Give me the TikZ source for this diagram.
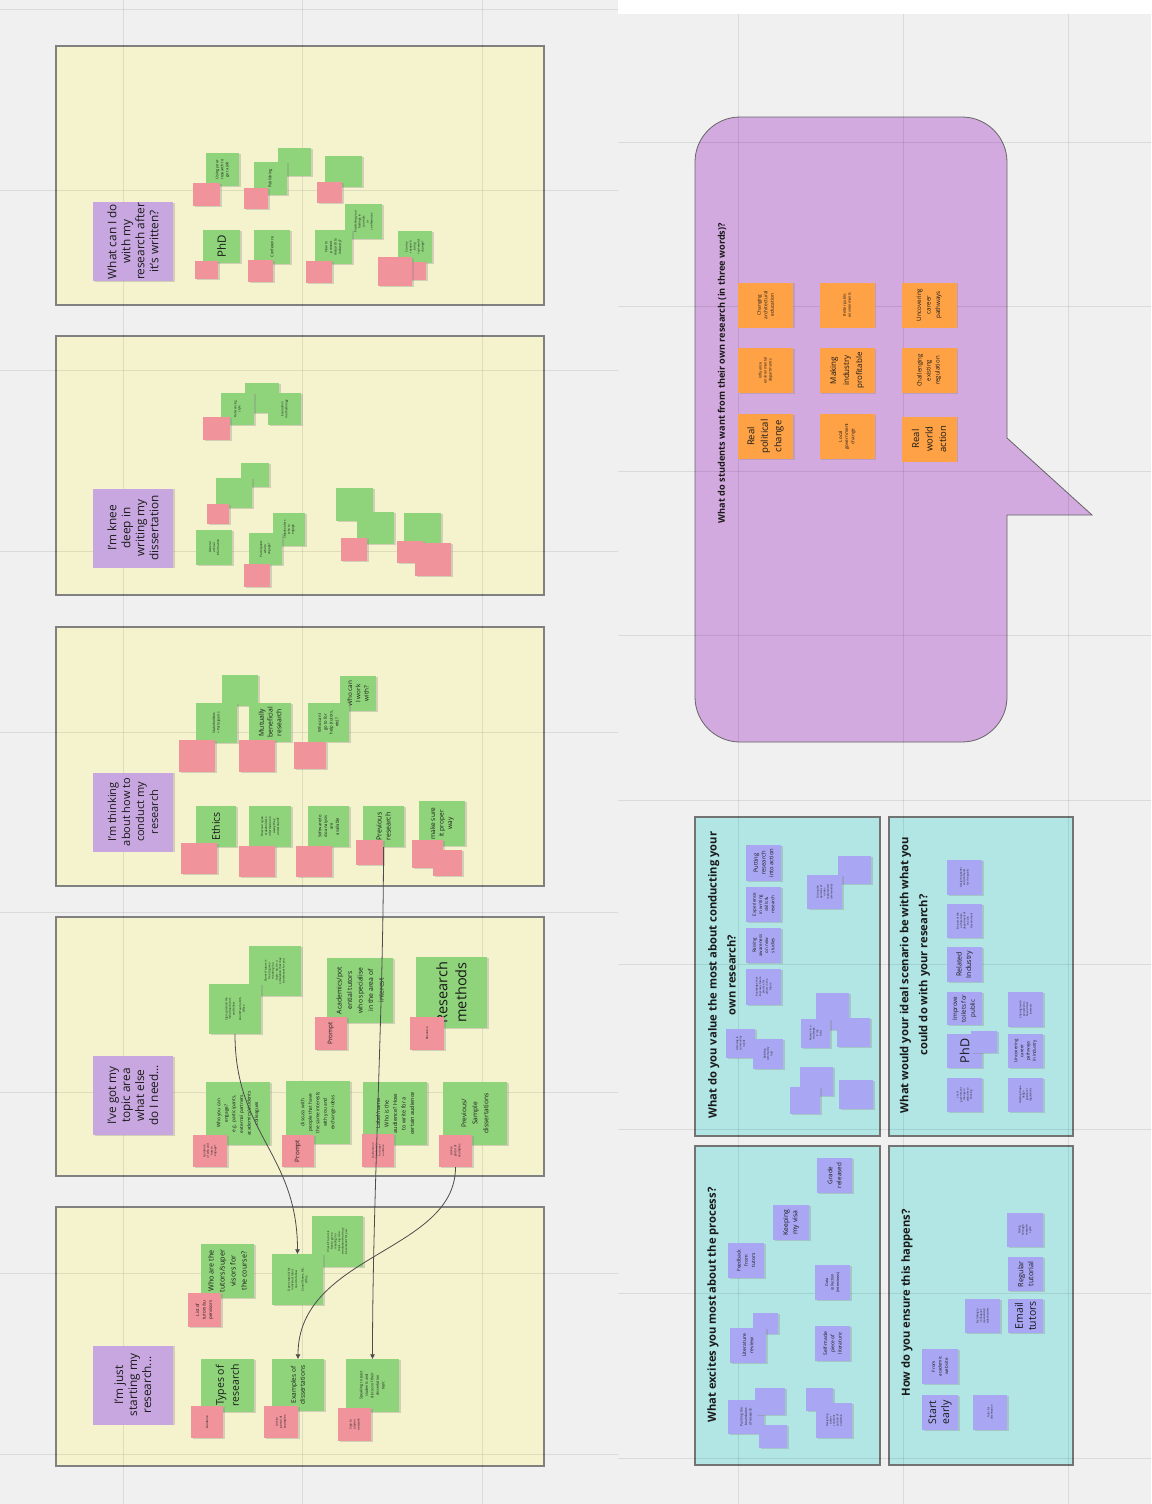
\documentclass[tikz,border=0pt]{standalone}
\usepackage{fontspec}
\setmainfont{Open Sans}
\usetikzlibrary{shadows,arrows.meta}
\definecolor{bggrey}{HTML}{F0F0F0}
\definecolor{panelyellow}{HTML}{F5F2CE}
\definecolor{panelcyan}{HTML}{B1E6E5}
\definecolor{notegreen}{HTML}{8FD47B}
\definecolor{notepink}{HTML}{F0939B}
\definecolor{notelav}{HTML}{C8A7E0}
\definecolor{noteviolet}{HTML}{A9A7F4}
\definecolor{noteorange}{HTML}{FFA245}
\definecolor{bubblepurple}{HTML}{D3AADF}

\begin{document}
\begin{tikzpicture}[x=1pt,y=-1pt,
  fs/.style 2 args={font=\fontsize{#1}{#2}\selectfont},
  fsb/.style 2 args={font=\bfseries\fontsize{#1}{#2}\selectfont},
  sz/.style 2 args={minimum height=#1pt,minimum width=#2pt},
  wee/.style={fs={3.8}{5}},
  sticky/.style={rotate=90,inner sep=1pt,align=center,text=black!90,
    drop shadow={shadow xshift=1.8pt,shadow yshift=-0.6pt,opacity=.3}},
  gnote/.style={sticky,fill=notegreen},
  pnote/.style={sticky,fill=notepink},
  vnote/.style={sticky,fill=noteviolet},
  onote/.style={sticky,fill=noteorange,sz={55}{45}},
  hnote/.style={sticky,fill=notelav,sz={80}{79},fs={11.8}{14}},
  panel/.style={fill=panelyellow,draw=black!50,line width=1.2pt},
  cpanel/.style={fill=panelcyan,draw=black!55,line width=1.2pt},
  bubbleshape/.style={fill=bubblepurple,draw=black!60,line width=0.8pt},
  gridline/.style={black,opacity=.09,line width=0.8pt},
  qtitle/.style={rotate=90,align=center,inner sep=0pt,text=black!90},
  conn/.style={draw=black!70,line width=0.8pt,-{Triangle[length=4.5pt,width=4.5pt]}}]
\useasboundingbox (0,0) rectangle (1151,1504);

% board
\fill[bggrey] (0,0) rectangle (1151,1504);
\fill[white] (618,0) rectangle (1151,14);
\foreach \py in {46,336,627,917,1207}
  \draw[panel] (56,\py) rectangle (544,\py+259);
\draw[bubbleshape] (850,117) [rounded corners=45pt] -- (1007,117) -- (1007,300) [sharp corners] -- (1007,438) -- (1092,515) -- (1007,515) -- (1007,650) [rounded corners=45pt] -- (1007,742) -- (695,742) -- (695,117) -- cycle;
\draw[cpanel] (695,817) rectangle (880,1136);
\draw[cpanel] (889,817) rectangle (1073,1136);
\draw[cpanel] (695,1146) rectangle (880,1465);
\draw[cpanel] (889,1146) rectangle (1073,1465);
\foreach \gx in {123,302,482}
  \draw[gridline] (\gx,0) -- (\gx,1504);
\foreach \gy in {9,190,370,551,732,912,1092,1273,1454}
  \draw[gridline] (0,\gy) -- (618,\gy);
\foreach \gx in {738,903,1068}
  \draw[gridline] (\gx,14) -- (\gx,1504);
\foreach \gy in {142,306,471,635,800,964,1129,1293,1458}
  \draw[gridline] (618,\gy) -- (1151,\gy);

% panel 1
\node[hnote] (h1) at (133,241.5) {What can I do\\with my\\research after\\it's written?};
\foreach \cx/\cy/\w/\h [count=\k] in {294.5/162/33/28,343.5/171.5/37/31}
  \node[gnote,sz={\w}{\h}] (n1e\k) at (\cx,\cy) {};
\node[gnote,sz={33}{33},wee] (n1job) at (222.5,169.5) {Using your\\research to\\get a job};
\node[gnote,sz={33}{33},wee] (n1pub) at (270.5,178.5) {Publishing};
\node[gnote,sz={37}{33},fs={11.5}{13}] (n1phd) at (221.5,246.5) {PhD};
\node[gnote,sz={36}{34},wee] (n1conf) at (272,247) {Conference};
\node[gnote,sz={37}{35},fs={3}{4}] (n1find) at (363.5,221.5) {Publishing your\\findings in\\journals\\or\\conferences};
\node[gnote,sz={37}{34},fs={3.4}{4.6}] (n1ind) at (333.5,247) {How to\\present\\research to\\industry?};
\node[gnote,sz={34}{32},fs={3}{4}] (n1chg) at (415,247) {Can my\\research\\bring\\real-world\\change?};
\foreach \cx/\cy/\w/\h [count=\k] in {206.5/194.5/27/23,256/198.5/24/21,329.5/192.5/25/21,206.5/270/23/18,260.5/271/25/22,319/272/26/22,414.5/271/23/18,395/271.5/34/29}
  \node[pnote,sz={\w}{\h}] (n1p\k) at (\cx,\cy) {};

% panel 2
\node[hnote] (h2) at (133,528) {I'm knee\\deep in\\writing my\\dissertation};
\foreach \cx/\cy/\w/\h [count=\k] in {262/398/34/30,255/475/28/24,234/493/36/30,354.5/504.5/37/33,375.5/528/37/32,422.5/528.5/37/31}
  \node[gnote,sz={\w}{\h}] (n2e\k) at (\cx,\cy) {};
\node[gnote,sz={33}{32},fs={3}{4}] (n2ref) at (237.5,409) {Referencing\\style};
\node[gnote,sz={33}{32},fs={3}{4}] (n2eval) at (284.5,409) {Evaluation\\methodology};
\node[gnote,sz={36}{35},fs={3}{4}] (n2eth) at (214,547.5) {General\\ethical\\information};
\node[gnote,sz={32}{33},fs={3}{4}] (n2stake) at (289,529.5) {Stakeholders\\who to\\engage};
\node[gnote,sz={33}{32},fs={3}{4}] (n2part) at (265.5,549) {Participants\\who to\\engage?};
\foreach \cx/\cy/\w/\h [count=\k] in {216.5/428.5/27/23,218/514/22/20,257/575.5/26/23,354/549.5/26/23,410/552/26/22,433/559.5/36/33}
  \node[pnote,sz={\w}{\h}] (n2p\k) at (\cx,\cy) {};

% panel 3
\node[hnote,fs={11}{14}] (h3) at (133,812) {I'm thinking\\about how to\\conduct my\\research};
\node[gnote,sz={36}{31}] (n3e1) at (240,690.5) {};
\node[gnote,sz={41}{40},fs={3.4}{4.6}] (n3stake) at (216.5,723) {Stakeholders\\+ Participants};
\node[gnote,sz={42}{39},fs={6.8}{8.8}] (n3mutual) at (270,722.5) {Mutually\\beneficial\\research};
\node[gnote,sz={36}{35},fs={6.3}{8.3}] (n3work) at (358,693.5) {Who can\\I work\\with?};
\node[gnote,sz={41}{39},fs={4.2}{5.8}] (n3help) at (328.5,722.5) {Who can I\\go to for\\help (tutors,\\etc)?};
\node[gnote,sz={40}{41},fs={10.5}{12}] (n3ethics) at (216,826.5) {Ethics};
\node[gnote,sz={42}{41},fs={3}{4}] (n3info) at (270,826.5) {How can I give\\stakeholders\\information in\\a way they\\understand?};
\node[gnote,sz={41}{41},fs={4.2}{5.8}] (n3soft) at (328.5,826.5) {Software/to\\do analysis\\are\\available};
\node[gnote,sz={41}{41},fs={7}{9}] (n3prev) at (383.5,826.5) {Previous\\research};
\node[gnote,sz={46}{45},fs={6.5}{8.5}] (n3proper) at (442,823.5) {make sure\\it proper\\way};
\foreach \cx/\cy/\w/\h [count=\k] in {197/756/36/32,257/756/36/32,310/755.5/32/27,199/858.5/36/31,257/861.5/36/31,314/861.5/36/31,369.5/852.5/27/25,427.5/854/31/28,447.5/863/29/26}
  \node[pnote,sz={\w}{\h}] (n3p\k) at (\cx,\cy) {};

% panel 4
\node[hnote] (h4) at (133,1095.5) {I've got my\\topic area\\what else\\do I need...};
\node[gnote,sz={52}{50},fs={2.8}{3.6}] (n4check) at (275,971) {Check if tutors is\\free to give a\\meeting in a\\topic - eg. do a\\simulation that may\\be relevant for you.};
\node[gnote,sz={52}{50},fs={2.8}{3.6}] (n4sign) at (235,1009) {Sign up/email the\\individual tutors\\and follow\\[3pt]Zoom/Teams, MS,\\Office};
\node[gnote,sz={66}{65},fs={6.8}{10.5}] (n4acad) at (360,990.5) {Academics/pot\\ential tutors\\who specialise\\in the area of\\interest};
\node[pnote,sz={32}{33},fs={6.3}{8}] (n4prompt1) at (331,1033.5) {Prompt};
\node[gnote,sz={71}{71},fs={14.5}{19}] (n4meth) at (451.5,992.5) {Research\\methods};
\node[pnote,sz={34}{33},fs={3}{4}] (n4res) at (427,1033.5) {Resource};
\node[gnote,sz={64}{63},fs={4.8}{7.5}] (n4engage) at (238,1113.5) {Who you can\\engage?\\e.g. participants,\\external partners,\\academics/students\\colleagues};
\node[pnote,sz={34}{32},fs={2.8}{3.6}] (n4guide) at (210,1151) {Guidance\\of who and\\how to\\engage?};
\node[gnote,sz={64}{63},fs={4.8}{7.5}] (n4disc) at (318,1112.5) {discuss with\\people that have\\the same interests\\with you and\\exchange ideas};
\node[pnote,sz={32}{32},fs={6.3}{8}] (n4prompt2) at (298,1151) {Prompt};
\node[gnote,sz={64}{63},fs={5.5}{8.5}] (n4aud) at (395,1113.5) {Label/name\\Who is the\\audience? How\\to write for a\\certain audience};
\node[pnote,sz={32}{33},fs={2.6}{3.4}] (n4write) at (378,1150.5) {Guidance on\\how to write\\for target\\audience};
\node[gnote,sz={64}{63},fs={6.6}{11}] (n4prev) at (475,1113.5) {Previous/\\Sample\\dissertations};
\node[pnote,sz={33}{32},fs={3}{4}] (n4link) at (455.5,1151) {Link to\\portal of\\examples};

% panel 5
\node[hnote] (h5) at (133,1385) {I'm just\\starting my\\research...};
\node[gnote,sz={53}{54},fs={7.2}{11}] (n5tutors) at (227.5,1271) {Who are the\\tutors/super\\visors for\\the course?};
\node[pnote,sz={33}{34},fs={4.5}{6.5}] (n5list) at (204.5,1310) {List of\\tutors/su\\pervisors};
\node[gnote,sz={51}{51},fs={2.8}{3.6}] (n5check) at (337.5,1241.5) {Check if tutors is\\free to give a\\meeting in a\\topic - eg. do a\\simulation that may\\be relevant for you.};
\node[gnote,sz={51}{51},fs={2.8}{3.6}] (n5open) at (297.5,1279.5) {Opens tutorial for\\individual tutors\\need to follow\\[3pt]Zoom/Teams, MS,\\Office};
\node[gnote,sz={53}{53},fs={10.5}{15}] (n5types) at (227.5,1385.5) {Types of\\research};
\node[pnote,sz={32}{32},fs={3}{4}] (n5guide) at (207,1422) {Guidance};
\node[gnote,sz={52}{52},fs={6.5}{9}] (n5exam) at (298,1385) {Examples of\\dissertations};
\node[pnote,sz={34}{32},fs={3}{4}] (n5link) at (281,1422) {Link to\\portal of\\examples};
\node[gnote,sz={53}{53},fs={3.6}{5.5}] (n5speak) at (372.5,1385.5) {Speaking to past\\students and\\discuss of their\\dissertation\\topic};
\node[pnote,sz={33}{33},fs={3}{4}] (n5alumni) at (354.5,1424.5) {Sign to\\alumni\\network};

% speech bubble
\node[qtitle,fsb={9.2}{11}] (tbub) at (722,373) {What do students want from their own research (in three words)?};
\node[onote,fs={4.8}{6.5}] (o1) at (765.5,305) {Changing\\architectural\\education};
\node[onote,fs={3.8}{5}] (o2) at (765.5,370.5) {Influence\\environmental\\departments};
\node[onote,fs={9.5}{13.5}] (o3) at (765.5,436.5) {Real\\political\\change};
\node[onote,fs={3.8}{5}] (o4) at (847,305) {Better public\\environments};
\node[onote,fs={8}{13}] (o5) at (847,370.5) {Making\\industry\\profitable};
\node[onote,fs={4.6}{6.2}] (o6) at (847,436.5) {Local\\government\\change};
\node[onote,fs={6.2}{9.5}] (o7) at (929,305) {Uncovering\\career\\pathways};
\node[onote,fs={6}{9}] (o8) at (929,370.5) {Challenging\\existing\\regulation};
\node[onote,fs={9.5}{13.5}] (o9) at (929,439) {Real\\world\\action};

% what do you value
\node[qtitle,fsb={11.2}{19}] (ta) at (722,975) {What do you value the most about conducting your\\own research?};
\foreach \cx/\cy/\w/\h [count=\k] in {854.5/870/33/28,832.5/1011.5/33/37,853.5/1032.5/33/29,816.5/1081.5/33/29,805/1100.5/30/27,856/1094.5/34/29}
  \node[vnote,sz={\w}{\h}] (ae\k) at (\cx,\cy) {};
\node[vnote,sz={35}{36},fs={5.8}{7.8}] (aput) at (763.5,863) {Putting\\research\\into action};
\node[vnote,sz={35}{35},fs={4.5}{6.2}] (aexp) at (763.5,904.5) {Experience\\in writing\\skills \&\\research};
\node[vnote,sz={35}{35},fs={4.5}{6.2}] (araise) at (763.5,945.5) {Raising\\awareness\\on new\\studies};
\node[vnote,sz={35}{36},fs={2.6}{3.4}] (aknow) at (763.5,987) {Knowledge that\\improves future\\practice for\\others in the\\future};
\node[vnote,sz={35}{34},fs={2.6}{3.4}] (agive) at (824.5,892) {Giving the\\opinions of\\under-\\represented\\communities};
\node[vnote,sz={29}{29},fs={2.6}{3.4}] (achal) at (815.5,1033.5) {Answer to a\\challenge\\in my\\field};
\node[vnote,sz={29}{29},fs={2.6}{3.4}] (alisten) at (740.5,1043.5) {Listening to\\community\\needs};
\node[vnote,sz={30}{30},fs={2.6}{3.4}] (abuild) at (768,1054) {Building\\community\\trust};

% ideal scenario
\node[qtitle,fsb={11.2}{19}] (tb) at (915,975) {What would your ideal scenario be with what you\\could do with your research?};
\node[vnote,sz={35}{35},fs={2.6}{3.4}] (bdes) at (964.5,877.5) {Designing better\\environments\\for the public};
\node[vnote,sz={35}{34},fs={2.6}{3.4}] (bgov) at (964.5,921) {Be part of the\\architecture\\department of\\the UK\\Government};
\node[vnote,sz={35}{35},fs={7}{9.5}] (bind) at (964.5,964.5) {Related\\Industry};
\node[vnote,sz={35}{33},fs={6.2}{8.8}] (btoil) at (964.5,1008.5) {Improve\\toilets for\\public};
\node[vnote,sz={35}{34},fs={12.5}{14}] (bphd) at (964.5,1051) {PhD};
\node[vnote,sz={26}{22}] (be1) at (984,1042) {};
\node[vnote,sz={35}{34},fs={2.6}{3.4}] (blocal) at (964.5,1095) {Local\\government\\change in\\attitudes to\\housing};
\node[vnote,sz={35}{35},fs={2.6}{3.4}] (bshare) at (1025.5,1009.5) {Sharing it with\\people who\\have similar\\interests};
\node[vnote,sz={35}{34},fs={4.4}{6.2}] (bcareer) at (1025.5,1051) {Uncovering\\career\\pathways\\in industry};
\node[vnote,sz={35}{34},fs={2.6}{3.4}] (bshape) at (1025.5,1095) {Helping shape\\design\\guidance/\\regulations};

% excites
\node[qtitle,fsb={11.2}{19}] (tc) at (713,1305) {What excites you most about the process?};
\node[vnote,sz={35}{35},fs={6.3}{8.8}] (cgrade) at (834.5,1175.5) {Grade\\released};
\node[vnote,sz={36}{35},fs={6.8}{9.3}] (cvisa) at (791,1222.5) {Keeping\\my visa};
\node[vnote,sz={36}{35},fs={5}{7.2}] (cfeed) at (746,1260.5) {Feedback\\from\\tutors};
\node[vnote,sz={35}{35},fs={3.8}{5.5}] (cdata) at (832.5,1282.5) {Data\\collection\\(interviews)};
\node[vnote,sz={25}{21}] (ce1) at (765.5,1323.5) {};
\node[vnote,sz={36}{35},fs={5}{7.2}] (clit) at (748,1345.5) {Literature\\review};
\node[vnote,sz={35}{35},fs={5}{7.2}] (cself) at (832.5,1343.5) {Self-made\\piece of\\literature};
\node[vnote,sz={36}{34},fs={3.3}{4.5}] (cpush) at (746,1417) {Pushing the\\boundaries\\of research};
\foreach \cx/\cy/\w/\h [count=\k] in {770/1401.5/30/27,773/1436.5/28/23,819.5/1399.5/27/23}
  \node[vnote,sz={\w}{\h}] (ce\k x) at (\cx,\cy) {};
\node[vnote,sz={36}{35},fs={2.6}{3.4}] (cdes) at (834,1420.5) {Designing\\better\\solutions\\outside of\\academia};

% ensure
\node[qtitle,fsb={11.2}{19}] (td) at (907,1303) {How do you ensure this happens?};
\node[vnote,sz={36}{34},fs={2.8}{3.6}] (dcycle) at (1025,1230) {Going\\through\\research\\cycle};
\node[vnote,sz={35}{34},fs={7.3}{10}] (dtut) at (1025.5,1274) {Regular\\tutorial};
\node[vnote,sz={35}{34},fs={10.5}{13}] (demail) at (1025.5,1316) {Email\\tutors};
\node[vnote,sz={35}{34},fs={2.6}{3.4}] (dtalk) at (982.5,1316) {By talking to\\colleagues\\(specialists)/\\stakeholders};
\node[vnote,sz={36}{35},fs={4.5}{6.5}] (dweb) at (940,1366.5) {From\\academic\\website};
\node[vnote,sz={36}{35},fs={10.5}{13}] (dstart) at (940,1412.5) {Start\\early};
\node[vnote,sz={34}{35},fs={2.6}{3.4}] (ddiss) at (990,1412.5) {Tutor for\\dissertation};

% links between columns (rotated notes: .west is the lower edge, .east the upper edge)
\draw[conn] (n3prev.west) .. controls +(0,160) and +(0,-160) .. (n5speak.east);
\draw[conn] (n4sign.west) .. controls +(0,100) and +(0,-100) .. (n5open.east);
\draw[conn] (n4link.west) .. controls +(0,85) and +(0,-105) .. (n5exam.east);
\end{tikzpicture}
\end{document}
